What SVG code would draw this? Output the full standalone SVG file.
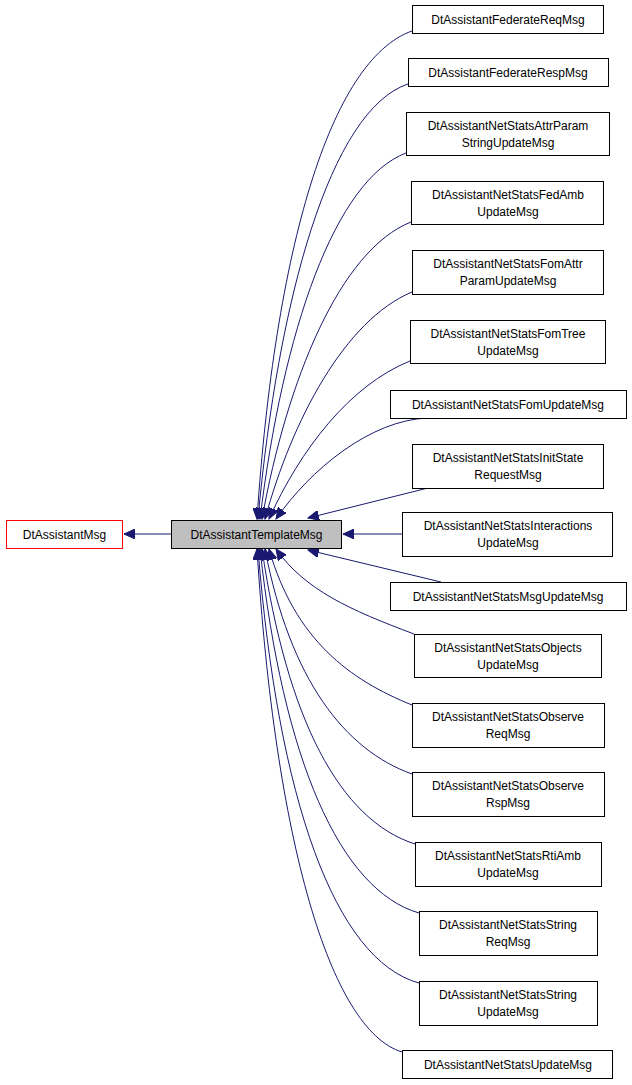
<svg xmlns="http://www.w3.org/2000/svg" width="632" height="1085" viewBox="0 0 632 1085">
<style>
text{font-family:"Liberation Sans",Arial,sans-serif;font-size:12px;text-anchor:middle;fill:#000}
.n rect{fill:#fff;stroke:#000;stroke-width:1}
.e path{fill:none;stroke:#191970;stroke-width:1;marker-end:url(#a)}
</style>
<defs><marker id="a" markerUnits="userSpaceOnUse" markerWidth="12" markerHeight="10" refX="11" refY="5" orient="auto"><path d="M0,0L11,5L0,10z" fill="#191970" stroke="#191970"/></marker></defs>
<rect width="632" height="1085" fill="#fff"/>
<g class="e">
<path d="M171,534L124,534"/>
<path d="M412,31C330,60 275,250 257,519"/>
<path d="M408,84C330,110 278,300 258,519"/>
<path d="M406,153C335,180 283,330 260,519"/>
<path d="M411,222C340,250 287,380 262,519"/>
<path d="M412,292C345,320 292,420 265,519"/>
<path d="M410,361C350,385 300,450 269,519"/>
<path d="M428,418C370,420 310,470 276,519"/>
<path d="M428,488L308,518"/>
<path d="M402,534L343,534"/>
<path d="M441,582L308,550"/>
<path d="M414,634C350,610 305,590 276,549"/>
<path d="M412,705C350,680 295,640 269,549"/>
<path d="M412,774C345,750 290,680 265,549"/>
<path d="M415,844C340,820 287,720 262,549"/>
<path d="M419,913C340,890 283,760 260,549"/>
<path d="M419,983C335,960 278,800 258,549"/>
<path d="M402,1052C330,1030 275,840 257,549"/>
</g>
<g id="DtAssistantMsg" class="n"><rect x="6.5" y="520.5" width="116" height="28" style="stroke:#f00"/><text x="64.5" y="539">DtAssistantMsg</text></g>
<g id="DtAssistantTemplateMsg" class="n"><rect x="171.5" y="520.5" width="170" height="28" style="fill:#bfbfbf"/><text x="256.5" y="539">DtAssistantTemplateMsg</text></g>
<g id="c1" class="n"><rect x="412.5" y="5.5" width="191" height="28"/><text x="508" y="24">DtAssistantFederateReqMsg</text></g>
<g id="c2" class="n"><rect x="408.5" y="58.5" width="200" height="28"/><text x="508" y="77">DtAssistantFederateRespMsg</text></g>
<g id="c3" class="n"><rect x="406.5" y="112.5" width="203" height="43"/><text x="508" y="130">DtAssistantNetStatsAttrParam</text><text x="508" y="147">StringUpdateMsg</text></g>
<g id="c4" class="n"><rect x="411.5" y="181.5" width="192" height="43"/><text x="508" y="199">DtAssistantNetStatsFedAmb</text><text x="508" y="216">UpdateMsg</text></g>
<g id="c5" class="n"><rect x="412.5" y="250.5" width="191" height="44"/><text x="508" y="268">DtAssistantNetStatsFomAttr</text><text x="508" y="285">ParamUpdateMsg</text></g>
<g id="c6" class="n"><rect x="410.5" y="320.5" width="195" height="43"/><text x="508" y="338">DtAssistantNetStatsFomTree</text><text x="508" y="355">UpdateMsg</text></g>
<g id="c7" class="n"><rect x="390.5" y="390.5" width="236" height="28"/><text x="508" y="409">DtAssistantNetStatsFomUpdateMsg</text></g>
<g id="c8" class="n"><rect x="412.5" y="444.5" width="191" height="44"/><text x="508" y="462">DtAssistantNetStatsInitState</text><text x="508" y="479">RequestMsg</text></g>
<g id="c9" class="n"><rect x="402.5" y="512.5" width="210" height="44"/><text x="508" y="530">DtAssistantNetStatsInteractions</text><text x="508" y="547">UpdateMsg</text></g>
<g id="c10" class="n"><rect x="390.5" y="582.5" width="236" height="28"/><text x="508" y="601">DtAssistantNetStatsMsgUpdateMsg</text></g>
<g id="c11" class="n"><rect x="414.5" y="634.5" width="187" height="43"/><text x="508" y="652">DtAssistantNetStatsObjects</text><text x="508" y="669">UpdateMsg</text></g>
<g id="c12" class="n"><rect x="412.5" y="703.5" width="192" height="44"/><text x="508" y="721">DtAssistantNetStatsObserve</text><text x="508" y="738">ReqMsg</text></g>
<g id="c13" class="n"><rect x="412.5" y="772.5" width="192" height="44"/><text x="508" y="790">DtAssistantNetStatsObserve</text><text x="508" y="807">RspMsg</text></g>
<g id="c14" class="n"><rect x="415.5" y="842.5" width="186" height="44"/><text x="508" y="860">DtAssistantNetStatsRtiAmb</text><text x="508" y="877">UpdateMsg</text></g>
<g id="c15" class="n"><rect x="419.5" y="911.5" width="178" height="44"/><text x="508" y="929">DtAssistantNetStatsString</text><text x="508" y="946">ReqMsg</text></g>
<g id="c16" class="n"><rect x="419.5" y="981.5" width="178" height="44"/><text x="508" y="999">DtAssistantNetStatsString</text><text x="508" y="1016">UpdateMsg</text></g>
<g id="c17" class="n"><rect x="402.5" y="1050.5" width="210" height="28"/><text x="508" y="1069">DtAssistantNetStatsUpdateMsg</text></g>
</svg>
